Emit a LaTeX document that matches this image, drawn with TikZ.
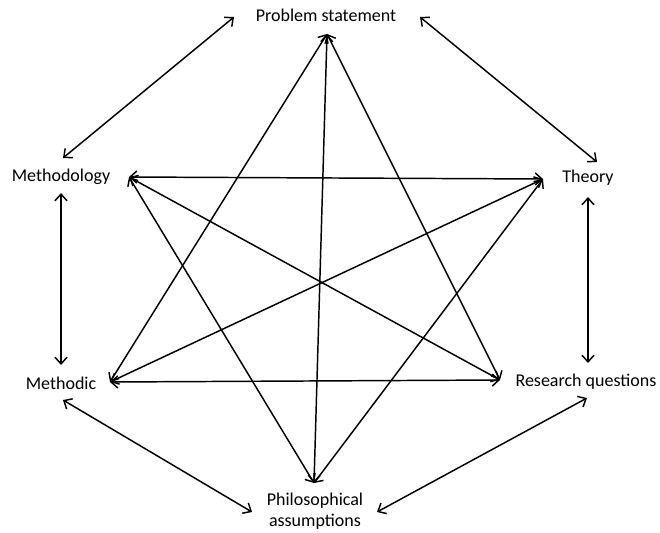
\documentclass[tikz,border=0pt]{standalone}
\usepackage{fontspec}
\setmainfont{Carlito}
\usetikzlibrary{arrows.meta}
\begin{document}
\begin{tikzpicture}[x=0.75pt,y=-0.75pt,
  lbl/.style={inner sep=0pt,font=\fontsize{13.5}{16}\selectfont,align=center},
  conn/.style={line width=1.1pt,{Straight Barb[length=5pt,width=9pt]}-{Straight Barb[length=5pt,width=9pt]}}]
\useasboundingbox (0,0) rectangle (660,532);
% labels
\node[lbl] (ps) at (326,15) {Problem statement};
\node[lbl] (mg) at (61,177) {Methodology};
\node[lbl] (th) at (588,178) {Theory};
\node[lbl] (mc) at (61,383) {Methodic};
\node[lbl] (rq) at (586,382) {Research questions};
\node[lbl] (pa) at (315,511) {Philosophical\\assumptions};
% star vertices
\coordinate (sP) at (327,34);
\coordinate (sM) at (129,177);
\coordinate (sT) at (543,179);
\coordinate (sC) at (110,382);
\coordinate (sR) at (500,380);
\coordinate (sH) at (314,483);
% outer arrow ends
\coordinate (a1) at (234,17);  \coordinate (a2) at (63,158);
\coordinate (b1) at (420,17);  \coordinate (b2) at (597,162);
\coordinate (c1) at (61,193);  \coordinate (c2) at (61,365);
\coordinate (d1) at (588,197); \coordinate (d2) at (588,363);
\coordinate (e1) at (63,400);  \coordinate (e2) at (252,512);
\coordinate (f1) at (587,398); \coordinate (f2) at (377,512);
% star
\draw[conn] (sP) -- (sC);
\draw[conn] (sP) -- (sR);
\draw[conn] (sP) -- (sH);
\draw[conn] (sM) -- (sT);
\draw[conn] (sM) -- (sR);
\draw[conn] (sM) -- (sH);
\draw[conn] (sT) -- (sC);
\draw[conn] (sT) -- (sH);
\draw[conn] (sC) -- (sR);
% outer
\draw[conn] (a1) -- (a2);
\draw[conn] (b1) -- (b2);
\draw[conn] (c1) -- (c2);
\draw[conn] (d1) -- (d2);
\draw[conn] (e1) -- (e2);
\draw[conn] (f1) -- (f2);
\end{tikzpicture}
\end{document}
